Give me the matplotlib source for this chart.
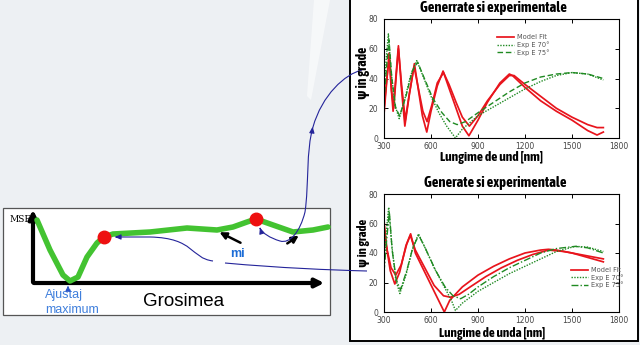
import matplotlib
matplotlib.use("Agg")
import matplotlib.pyplot as plt
from matplotlib import font_manager
from matplotlib.path import Path
from matplotlib.patches import Rectangle, Polygon, PathPatch

# ---------------- spectra: top panel ----------------
top_model_a_x = [300, 315, 332, 345, 358, 375, 392, 410, 433, 460, 494, 520, 545, 573, 600, 640,
                 677, 710, 760, 800, 842, 900, 960, 1040, 1100, 1120, 1200, 1300, 1400, 1500, 1600, 1660, 1700]
top_model_a_y = [16, 35, 57, 35, 18, 40, 62, 35, 8, 28, 50, 32, 15, 4, 18, 35,
                 45, 35, 20, 8, 1.5, 12, 24, 37, 43, 42, 34, 25, 18, 12, 5, 2, 4]
top_model_b_x = [300, 318, 335, 348, 362, 378, 392, 412, 436, 462, 492, 520, 548, 575, 605, 640,
                 680, 715, 760, 800, 845, 900, 960, 1040, 1100, 1130, 1200, 1300, 1400, 1500, 1600, 1660, 1700]
top_model_b_y = [20, 40, 55, 32, 20, 42, 60, 36, 12, 30, 48, 33, 18, 11, 22, 37,
                 44, 36, 24, 14, 8, 15, 25, 36, 42, 42, 36, 28, 20, 14, 9, 7, 7]
top_exp70_x = [300, 315, 328, 345, 370, 397, 430, 470, 509, 540, 600, 650, 700, 756, 800, 900,
               1000, 1100, 1200, 1300, 1400, 1500, 1600, 1700]
top_exp70_y = [30, 55, 70, 45, 22, 13, 25, 42, 52, 44, 28, 17, 8, 0, 6, 15,
               21, 27, 33, 38, 42, 44, 43, 39]
top_exp75_x = [300, 318, 332, 350, 375, 400, 440, 480, 515, 550, 610, 670, 720, 767, 820, 900,
               1000, 1100, 1200, 1300, 1400, 1500, 1600, 1700]
top_exp75_y = [25, 50, 66, 40, 20, 15, 28, 45, 51, 42, 27, 17, 11, 9, 11, 17,
               24, 31, 37, 41, 43, 44, 43, 40]

# ---------------- spectra: bottom panel ----------------
bot_model_a_x = [300, 315, 340, 369, 400, 440, 470, 500, 560, 620, 685, 720, 800, 900, 1000,
                 1100, 1200, 1300, 1350, 1400, 1500, 1600, 1700]
bot_model_a_y = [62, 45, 28, 19, 27, 45, 53, 40, 27, 14, 0, 8, 17, 25, 31,
                 36, 40, 42, 42.5, 42, 40, 37, 34]
bot_model_b_x = [300, 320, 345, 375, 410, 445, 468, 500, 560, 620, 680, 724, 780, 850, 950,
                 1050, 1150, 1250, 1350, 1450, 1550, 1700]
bot_model_b_y = [58, 42, 30, 25, 32, 46, 52, 42, 30, 18, 11, 10, 12, 17, 24,
                 30, 35, 39, 42, 41, 39, 36]
bot_exp70_x = [300, 315, 330, 350, 375, 401, 440, 480, 520, 560, 620, 680, 730, 756, 800, 900,
               1000, 1100, 1200, 1300, 1400, 1520, 1600, 1700]
bot_exp70_y = [30, 55, 71, 45, 22, 12.5, 25, 42, 53, 44, 30, 18, 8, 1, 6, 14,
               20, 26, 31, 36, 41, 44.5, 44, 41]
bot_exp75_x = [300, 318, 334, 352, 378, 405, 445, 485, 522, 565, 630, 690, 740, 789, 840, 900,
               1000, 1100, 1200, 1300, 1400, 1520, 1600, 1700]
bot_exp75_y = [27, 50, 68, 42, 22, 15, 28, 44, 52, 43, 28, 17, 11, 9, 12, 17,
               24, 30, 35, 40, 43, 44.5, 43.5, 40]

x_ticks = [300, 600, 900, 1200, 1500, 1800]
y_ticks = [0, 20, 40, 60, 80]
legend_labels = ["Model Fit", "Exp E 70°", "Exp E 75°"]

# ---------------- MSE vs thickness sketch (pixel space) ----------------
mse_x = [37, 50, 63, 70, 78, 87, 97, 104, 113, 150, 187, 217, 233, 247, 256, 273, 293, 313, 328]
mse_y = [220, 250, 275, 281, 277, 257, 243, 237, 234, 232, 228, 230, 227, 222, 219, 225, 232, 230, 227]
minima_x = [104, 256]
minima_y = [237, 219]

RED = "#e8141c"
GREEN = "#1f8a22"
NAVY = "#24249a"

# heading font: prefer a condensed bold face when one is installed
_condensed = ("condensed", "extra-condensed", "semi-condensed", "ultra-condensed")
_cond_faces = [f for f in font_manager.fontManager.ttflist if str(f.stretch) in _condensed]
_names = {f.name for f in font_manager.fontManager.ttflist}
if _cond_faces:
    _pref = sorted(_cond_faces, key=lambda f: (f.weight not in ("bold", 700, "heavy", "black"), f.name))
    HEAD = dict(family=[_pref[0].name, "DejaVu Sans"], fontweight="bold", fontstretch=_pref[0].stretch)
elif "Liberation Sans Narrow" in _names:
    HEAD = dict(family=["Liberation Sans Narrow", "DejaVu Sans"], fontweight="bold")
else:
    HEAD = dict(family=["Roboto", "DejaVu Sans"], fontweight="bold")

fig = plt.figure(figsize=(6.4, 3.45), dpi=100)
fig.patch.set_facecolor("#edf0f3")
renderer = fig.canvas.get_renderer()

bg = fig.add_axes([0, 0, 1, 1])
bg.set_xlim(0, 640)
bg.set_ylim(345, 0)
bg.axis("off")

# faint light streak in the background
bg.add_patch(Polygon([(314, 0), (330, 0), (311, 100), (307, 96)], closed=True,
                     facecolor="white", edgecolor="none", alpha=0.55, zorder=0))

# white sheet holding both spectra
bg.add_patch(Rectangle((350, -2), 288, 343, facecolor="white", edgecolor="black", lw=1.4, zorder=1))

# sketch frame
bg.add_patch(Rectangle((3, 208), 327, 107, facecolor="white", edgecolor="#555555", lw=0.9, zorder=1))

# axes arrows of the sketch
bg.annotate("", xy=(33, 207), xytext=(33, 285),
            arrowprops=dict(arrowstyle="-|>,head_length=0.5,head_width=0.25", color="black", lw=3), zorder=3)
bg.annotate("", xy=(327, 283), xytext=(31, 283),
            arrowprops=dict(arrowstyle="-|>,head_length=0.5,head_width=0.25", color="black", lw=3), zorder=3)

bg.plot(mse_x, mse_y, color="#43c331", lw=4, solid_capstyle="round", zorder=4)
bg.plot(minima_x, minima_y, "o", color="#ee1010", ms=9, zorder=5)

bg.text(9, 219, "MSE", fontsize=6.5, family="DejaVu Serif", va="center", ha="left", zorder=2)
bg.text(45, 295, "Ajustaj", fontsize=9, color="#3f7fdc", va="center", ha="left",
        family="Liberation Sans", zorder=3)
bg.text(45, 310, "maximum", fontsize=9, color="#3f7fdc", va="center", ha="left",
        family="Liberation Sans", zorder=3)
bg.text(184, 302, "Grosimea", fontsize=13.5, color="black", va="center", ha="center",
        family="Liberation Sans", zorder=3)
bg.text(237, 254, "mi", fontsize=9, color="#1c6cd6", fontweight="bold", va="center", ha="center",
        family="Liberation Sans", zorder=3)
bg.annotate("", xy=(68, 283), xytext=(68, 291),
            arrowprops=dict(arrowstyle="-|>,head_length=0.3,head_width=0.15", color="#2a55c8", lw=0.8), zorder=3)

# black pointers to local minima
bg.annotate("", xy=(217, 231), xytext=(243, 244),
            arrowprops=dict(arrowstyle="-|>,head_length=0.4,head_width=0.2", color="black", lw=1.8), zorder=6)
bg.annotate("", xy=(301, 234), xytext=(285, 245),
            arrowprops=dict(arrowstyle="-|>,head_length=0.4,head_width=0.2", color="black", lw=1.8), zorder=6)

# navy connectors between sketch and spectra
V = [(362, 70), (345, 74), (322, 95), (313, 127),
     (306, 150), (309, 185), (305, 212),
     (300, 232), (290, 244), (280, 241),
     (270, 238), (262, 233), (260, 228)]
C = [Path.MOVETO] + [Path.CURVE4] * 12
bg.add_patch(PathPatch(Path(V, C), facecolor="none", edgecolor=NAVY, lw=0.8, zorder=7))
bg.annotate("", xy=(259, 225), xytext=(261, 231),
            arrowprops=dict(arrowstyle="-|>,head_length=0.35,head_width=0.15", color=NAVY, lw=0.8), zorder=7)
bg.annotate("", xy=(313, 124), xytext=(312, 132),
            arrowprops=dict(arrowstyle="-|>,head_length=0.35,head_width=0.15", color=NAVY, lw=0.8), zorder=7)

V2 = [(213, 261), (190, 258), (195, 238), (150, 237), (116, 237)]
C2 = [Path.MOVETO, Path.CURVE4, Path.CURVE4, Path.CURVE4, Path.LINETO]
bg.add_patch(PathPatch(Path(V2, C2), facecolor="none", edgecolor=NAVY, lw=0.8, zorder=7))
bg.annotate("", xy=(112, 237), xytext=(120, 237),
            arrowprops=dict(arrowstyle="-|>,head_length=0.35,head_width=0.15", color=NAVY, lw=0.8), zorder=7)
V3 = [(225, 263), (280, 268), (330, 270), (367, 271)]
C3 = [Path.MOVETO, Path.CURVE4, Path.CURVE4, Path.CURVE4]
bg.add_patch(PathPatch(Path(V3, C3), facecolor="none", edgecolor=NAVY, lw=0.8, zorder=7))


def heading(x, y, s, span, rotation=0):
    """Bold heading sized so that its long side covers `span` pixels."""
    t = bg.text(x, y, s, fontsize=10, ha="center", va="center", rotation=rotation, zorder=8, **HEAD)
    bb = t.get_window_extent(renderer)
    size = bb.height if rotation else bb.width
    t.set_fontsize(min(10 * span / size, 10.5))
    return t


def spectrum_axes(rect, title, xlabel, title_xy, xlabel_xy, ylabel_xy, spans, curves, styles, leg_anchor):
    ax = fig.add_axes(rect)
    ma_x, ma_y, mb_x, mb_y, e70_x, e70_y, e75_x, e75_y = curves
    ax.plot(ma_x, ma_y, color=RED, lw=1.25, label=legend_labels[0])
    ax.plot(mb_x, mb_y, color=RED, lw=1.25)
    ax.plot(e70_x, e70_y, color=GREEN, lw=1.0, linestyle=styles[0], label=legend_labels[1])
    ax.plot(e75_x, e75_y, color=GREEN, lw=1.0, linestyle=styles[1], label=legend_labels[2])
    ax.set_xlim(300, 1800)
    ax.set_ylim(0, 80)
    ax.set_xticks(x_ticks)
    ax.set_yticks(y_ticks)
    ax.tick_params(direction="in", length=3, width=0.7, labelsize=5.5, labelcolor="#444444",
                   top=True, right=True)
    ax.tick_params(axis="x", pad=2.6)
    ax.tick_params(axis="y", pad=4)
    for s in ax.spines.values():
        s.set_linewidth(0.8)
    leg = ax.legend(loc="upper left", bbox_to_anchor=leg_anchor, fontsize=4.8, frameon=False,
                    handlelength=2.6, labelspacing=0.15, borderpad=0, handletextpad=0.5)
    for t in leg.get_texts():
        t.set_color("#555555")
    heading(*title_xy, title, spans[0])
    heading(*xlabel_xy, xlabel, spans[1])
    heading(*ylabel_xy, "ψ in grade", spans[2], rotation=90)
    return ax


top = spectrum_axes([384 / 640, 1 - 138 / 345, 235 / 640, 119 / 345],
                    "Generrate si experimentale", "Lungime de und [nm]",
                    (493, 8), (492, 157), (363, 73), (149, 102, 52),
                    (top_model_a_x, top_model_a_y, top_model_b_x, top_model_b_y,
                     top_exp70_x, top_exp70_y, top_exp75_x, top_exp75_y),
                    ((0, (1, 1)), (0, (4, 2))), (0.465, 0.9))

bot = spectrum_axes([384 / 640, 1 - 312 / 345, 235 / 640, 118 / 345],
                    "Generate si experimentale", "Lungime de unda [nm]",
                    (495, 183), (492, 333), (363, 243), (146, 105, 48),
                    (bot_model_a_x, bot_model_a_y, bot_model_b_x, bot_model_b_y,
                     bot_exp70_x, bot_exp70_y, bot_exp75_x, bot_exp75_y),
                    ((0, (1, 1)), (0, (5, 1.5, 1, 1.5))), (0.78, 0.41))

fig.savefig("out.png", dpi=100, facecolor=fig.get_facecolor())
